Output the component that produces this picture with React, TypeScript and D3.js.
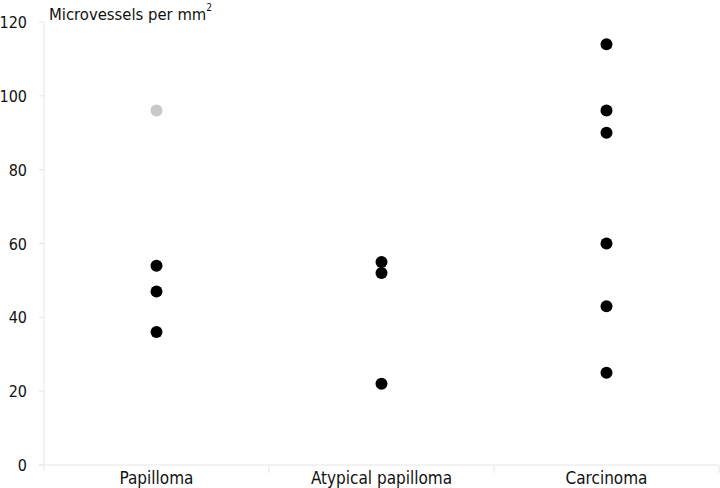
import * as d3 from "d3";

const WIDTH = 720;
const HEIGHT = 488;
const MARGIN = { top: 22, right: 1, bottom: 23, left: 44 };

const CATEGORIES = ["Papilloma", "Atypical papilloma", "Carcinoma"];
const Y_TICKS = [0, 20, 40, 60, 80, 100, 120];

// one entry per dot: category index, value, highlighted (grey) or not
const POINT_CATEGORY = [0, 0, 0, 0, 1, 1, 1, 2, 2, 2, 2, 2, 2];
const POINT_VALUES = [96, 54, 47, 36, 55, 52, 22, 114, 96, 90, 60, 43, 25];
const POINT_GREY = [true, false, false, false, false, false, false, false, false, false, false, false, false];

const FONT = "'DejaVu Sans Condensed', 'DejaVu Sans', sans-serif";
const AXIS_COLOR = "#e6e6e6";

export default function App() {
  const x = d3
    .scaleBand<string>()
    .domain(CATEGORIES)
    .range([MARGIN.left, WIDTH - MARGIN.right])
    .paddingInner(0)
    .paddingOuter(0);

  const y = d3
    .scaleLinear()
    .domain([0, 120])
    .range([HEIGHT - MARGIN.bottom, MARGIN.top]);

  const baseY = y(0);
  const boundaries = CATEGORIES.map((c) => (x(c) ?? 0) + x.bandwidth());

  return (
    <div style={{ position: "absolute", left: 0, top: 0 }}>
      <svg width={WIDTH} height={HEIGHT} style={{ display: "block", background: "#fff" }} fontFamily={FONT}>
        {/* y axis */}
        <line x1={MARGIN.left} x2={MARGIN.left} y1={baseY + 6} y2={MARGIN.top} stroke={AXIS_COLOR} strokeWidth={1} />
        {Y_TICKS.map((t) => (
          <g key={`y-${t}`}>
            <line x1={MARGIN.left - 5} x2={MARGIN.left} y1={y(t)} y2={y(t)} stroke={AXIS_COLOR} strokeWidth={1} />
            <text x={27} y={y(t) + 6} textAnchor="end" fontSize={16} fill="#111">
              {t}
            </text>
          </g>
        ))}

        {/* x axis */}
        <line x1={MARGIN.left - 5} x2={WIDTH - MARGIN.right} y1={baseY} y2={baseY} stroke={AXIS_COLOR} strokeWidth={1} />
        {boundaries.map((bx, i) => (
          <line key={`xt-${i}`} x1={bx} x2={bx} y1={baseY} y2={baseY + 8} stroke={AXIS_COLOR} strokeWidth={1} />
        ))}
        {CATEGORIES.map((c) => (
          <text key={c} x={(x(c) ?? 0) + x.bandwidth() / 2} y={HEIGHT - 4} textAnchor="middle" fontSize={17} fill="#111">
            {c}
          </text>
        ))}

        {/* title */}
        <text x={49} y={20} fontSize={16.5} fill="#111">
          Microvessels per mm
          <tspan dy={-9} fontSize={10}>2</tspan>
        </text>

        {/* dots */}
        {POINT_VALUES.map((v, i) => (
          <circle
            key={`p-${i}`}
            cx={(x(CATEGORIES[POINT_CATEGORY[i]]) ?? 0) + x.bandwidth() / 2}
            cy={y(v)}
            r={6}
            fill={POINT_GREY[i] ? "#c8c8c8" : "#000"}
          />
        ))}
      </svg>
    </div>
  );
}
